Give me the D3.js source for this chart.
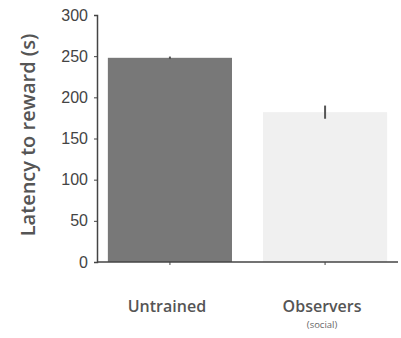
<!DOCTYPE html>
<meta charset="utf-8">
<head>
  <script src="https://d3js.org/d3.v7.min.js"></script>
  <style>
    body { margin: 0; background: #fff; }
    .tick text { font-family: "Liberation Sans", Arial, sans-serif; }
    .lbl { font-family: "Open Sans", sans-serif; }
  </style>
</head>
<body>
  <div id="chart"></div>
  <script>
    // data
    var groups = ["Untrained", "Observers"]
    var subLabels = ["", "(social)"]
    var latency = [248, 182]
    var errors = [1.5, 8]
    var barColors = ["#787878", "#f0f0f0"]
    var yTicks = [0, 50, 100, 150, 200, 250, 300]

    var width = 401, height = 338

    var svg = d3.select("#chart").append("svg")
      .attr("width", width)
      .attr("height", height)

    var y = d3.scaleLinear().domain([0, 300]).range([262, 15])
    var x = d3.scaleBand().domain(groups).range([97, 398]).paddingInner(0.2).paddingOuter(0.07)

    // bars
    svg.selectAll("rect.bar")
      .data(groups)
      .enter().append("rect")
      .attr("class", "bar")
      .attr("x", function(d) { return x(d) })
      .attr("width", x.bandwidth())
      .attr("y", function(d, i) { return y(latency[i]) })
      .attr("height", function(d, i) { return y(0) - y(latency[i]) })
      .attr("fill", function(d, i) { return barColors[i] })

    // error bars
    svg.selectAll("line.err")
      .data(groups)
      .enter().append("line")
      .attr("class", "err")
      .attr("x1", function(d) { return x(d) + x.bandwidth() / 2 })
      .attr("x2", function(d) { return x(d) + x.bandwidth() / 2 })
      .attr("y1", function(d, i) { return y(latency[i] - errors[i]) })
      .attr("y2", function(d, i) { return y(latency[i] + errors[i]) })
      .attr("stroke", "#555")
      .attr("stroke-width", 2)

    // y axis
    var yAxis = svg.append("g")
      .attr("transform", "translate(97,0)")
      .call(d3.axisLeft(y).tickValues(yTicks).tickSize(3).tickPadding(6))
    yAxis.select(".domain").attr("stroke", "#444").attr("stroke-width", 1.5)
    yAxis.selectAll(".tick line").attr("stroke", "#444")
    yAxis.selectAll(".tick text").attr("font-size", 16).attr("fill", "#444")

    // x axis
    var xAxis = svg.append("g")
      .attr("transform", "translate(0,262)")
      .call(d3.axisBottom(x).tickSize(3).tickFormat(""))
    xAxis.select(".domain").attr("stroke", "#444").attr("stroke-width", 1.5)
      .attr("d", "M97,0H398")
    xAxis.selectAll(".tick line").attr("stroke", "#444")

    svg.selectAll("text.grp")
      .data(groups)
      .enter().append("text")
      .attr("class", "grp lbl")
      .attr("x", function(d) { return x(d) + x.bandwidth() / 2 - 3 })
      .attr("y", 312)
      .attr("text-anchor", "middle")
      .attr("font-size", 16)
      .attr("font-weight", 600)
      .attr("fill", "#555")
      .text(function(d) { return d })

    svg.selectAll("text.sub")
      .data(groups)
      .enter().append("text")
      .attr("class", "sub lbl")
      .attr("x", function(d) { return x(d) + x.bandwidth() / 2 - 3 })
      .attr("y", 328)
      .attr("text-anchor", "middle")
      .attr("font-size", 9.5)
      .attr("fill", "#666")
      .text(function(d, i) { return subLabels[i] })

    svg.append("text")
      .attr("class", "lbl")
      .attr("transform", "translate(35,135) rotate(-90)")
      .attr("text-anchor", "middle")
      .attr("font-size", 20)
      .attr("font-weight", 600)
      .attr("fill", "#555")
      .text("Latency to reward (s)")
  </script>
</body>
